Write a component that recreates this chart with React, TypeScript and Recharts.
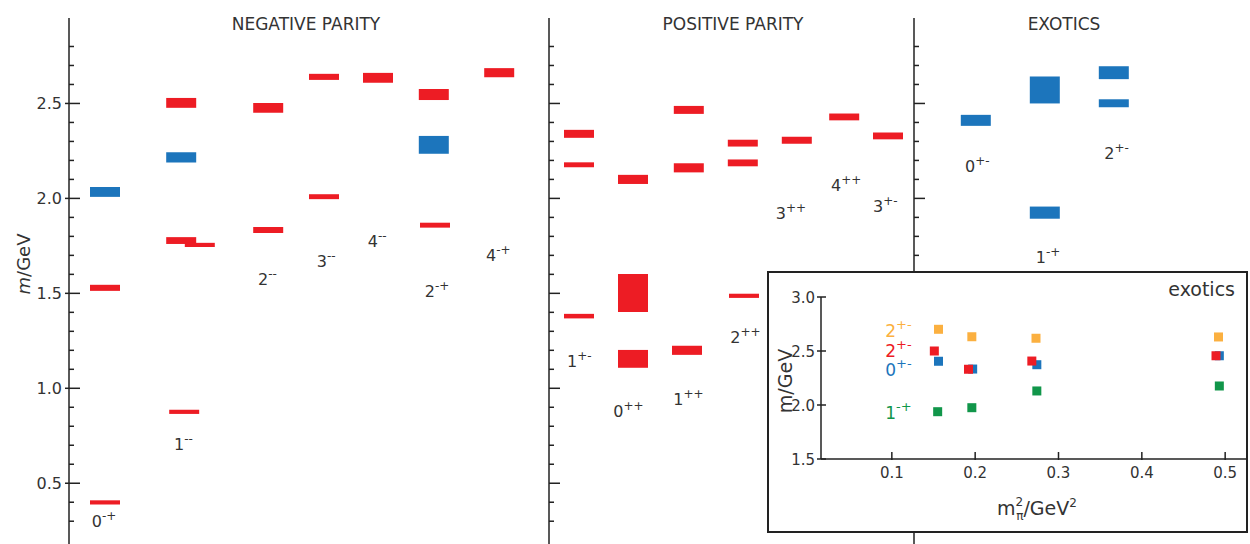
import { ComposedChart, ScatterChart, Scatter, XAxis, YAxis, ReferenceArea } from "recharts";

const RED = "#ed1c24";
const BLUE = "#1c75bc";
const ORANGE = "#fbb040";
const GREEN = "#11964a";
const INK = "#222";
const TEXT = "#333";
const FONT = "'DejaVu Sans', sans-serif";

// mass axis (GeV), minor ticks every 0.1, labels on the halves
const massTicks = [0.3, 0.4, 0.5, 0.6, 0.7, 0.8, 0.9, 1.0, 1.1, 1.2, 1.3, 1.4, 1.5, 1.6, 1.7, 1.8, 1.9, 2.0, 2.1, 2.2, 2.3, 2.4, 2.5, 2.6, 2.7, 2.8];

// [column slot, mass, half band, 1 = blue (hybrid-like)]
const negativeStates: [number, number, number, number][] = [
  [0.6, 2.034, 0.026, 1],
  [0.6, 1.529, 0.016, 0],
  [0.6, 0.399, 0.011, 0],
  [1.87, 2.503, 0.026, 0],
  [1.87, 2.216, 0.027, 1],
  [1.87, 1.778, 0.018, 0],
  [1.92, 0.876, 0.011, 0],
  [2.18, 1.755, 0.011, 0],
  [3.32, 2.477, 0.026, 0],
  [3.32, 1.834, 0.016, 0],
  [4.25, 2.64, 0.016, 0],
  [4.25, 2.009, 0.013, 0],
  [5.15, 2.635, 0.026, 0],
  [6.08, 2.547, 0.029, 0],
  [6.08, 2.282, 0.047, 1],
  [6.1, 1.859, 0.013, 0],
  [7.17, 2.662, 0.024, 0],
];

const positiveStates: [number, number, number, number][] = [
  [0.5, 2.34, 0.021, 0],
  [0.5, 2.177, 0.013, 0],
  [0.5, 1.38, 0.012, 0],
  [1.4, 2.1, 0.024, 0],
  [1.4, 1.502, 0.1, 0],
  [1.4, 1.155, 0.047, 0],
  [2.33, 2.466, 0.021, 0],
  [2.33, 2.161, 0.024, 0],
  [2.3, 1.2, 0.024, 0],
  [3.23, 2.291, 0.018, 0],
  [3.23, 2.187, 0.018, 0],
  [3.25, 1.487, 0.011, 0],
  [4.13, 2.306, 0.018, 0],
  [4.92, 2.429, 0.018, 0],
  [5.65, 2.329, 0.018, 0],
];

const exoticStates: [number, number, number, number][] = [
  [1.03, 2.411, 0.029, 1],
  [2.18, 2.571, 0.071, 1],
  [2.18, 1.925, 0.032, 1],
  [3.33, 2.662, 0.034, 1],
  [3.33, 2.501, 0.021, 1],
];

// [J, PC, slot, mass at baseline]
const negativeLabels: [string, string, number, number][] = [
  ["0", "-+", 0.38, 0.27],
  ["1", "--", 1.75, 0.676],
  ["2", "--", 3.15, 1.545],
  ["3", "--", 4.13, 1.639],
  ["4", "--", 4.98, 1.745],
  ["2", "-+", 5.93, 1.481],
  ["4", "-+", 6.95, 1.671],
];

const positiveLabels: [string, string, number, number][] = [
  ["1", "+-", 0.3, 1.113],
  ["0", "++", 1.07, 0.85],
  ["1", "++", 2.07, 0.913],
  ["2", "++", 3.02, 1.239],
  ["3", "++", 3.78, 1.892],
  ["4", "++", 4.7, 2.04],
  ["3", "+-", 5.4, 1.929],
];

const exoticLabels: [string, string, number, number][] = [
  ["0", "+-", 0.85, 2.14],
  ["1", "-+", 2.03, 1.66],
  ["2", "+-", 3.17, 2.208],
];

// inset: exotic masses vs pion mass squared
const pionTicks = [0.1, 0.2, 0.3, 0.4, 0.5];
const insetMassTicks = [1.5, 2.0, 2.5, 3.0];
const orange2X = [0.156, 0.196, 0.273, 0.492];
const orange2M = [2.701, 2.632, 2.618, 2.63];
const red2X = [0.151, 0.192, 0.268, 0.489];
const red2M = [2.5, 2.331, 2.407, 2.456];
const blue0X = [0.156, 0.197, 0.274, 0.493];
const blue0M = [2.405, 2.333, 2.373, 2.456];
const green1X = [0.155, 0.196, 0.274, 0.493];
const green1M = [1.938, 1.975, 2.13, 2.176];
const insetJ = ["2", "2", "0", "1"];
const insetPC = ["+-", "+-", "+-", "-+"];
const insetLabelX = 0.092;
const insetLabelM = [2.63, 2.444, 2.269, 1.87];
const insetColors = [ORANGE, RED, BLUE, GREEN];

function MassTick({ x, y, payload, withText }: any) {
  const v = payload.value;
  const major = Math.abs(v * 2 - Math.round(v * 2)) < 1e-6;
  return (
    <g>
      <line x1={major && withText ? x - 4 : x} x2={x + (major ? 11 : 5)} y1={y} y2={y} stroke={INK} strokeWidth={1.5} />
      {withText && major && (
        <text x={x - 7} y={y + 6} textAnchor="end" fontSize={16} fill={TEXT} fontFamily={FONT}>
          {v.toFixed(1)}
        </text>
      )}
    </g>
  );
}

function JpcText({ cx, cy, payload }: any) {
  return (
    <text x={cx} y={cy} fontSize={16} fill={TEXT} fontFamily={FONT}>
      {payload.j}
      <tspan fontSize={12} dy={-7}>{payload.pc}</tspan>
    </text>
  );
}

function Panel({ left, width, slots, yw, withText, states, labels }: any) {
  const labelData = labels.map(([j, pc, x, m]: any) => ({ j, pc, x, m }));
  return (
    <div style={{ position: "absolute", left, top: 0 }}>
      <ComposedChart width={width} height={544} margin={{ top: 18, right: 0, bottom: 0, left: 0 }}>
        <XAxis type="number" dataKey="x" domain={[0, slots]} allowDataOverflow hide />
        <YAxis
          type="number"
          dataKey="m"
          domain={[0.18, 2.95]}
          allowDataOverflow
          ticks={massTicks}
          interval={0}
          width={yw}
          tickSize={0}
          tickMargin={0}
          tickLine={false}
          axisLine={{ stroke: INK, strokeWidth: 1.5 }}
          tick={(p: any) => <MassTick {...p} withText={withText} />}
        />
        {states.map(([x, m, dm, blue]: any, i: number) => (
          <ReferenceArea
            key={i}
            x1={x - 0.25}
            x2={x + 0.25}
            y1={m - dm}
            y2={m + dm}
            fill={blue ? BLUE : RED}
            fillOpacity={1}
            stroke="none"
          />
        ))}
        <Scatter data={labelData} shape={(p: any) => <JpcText {...p} />} isAnimationActive={false} />
      </ComposedChart>
    </div>
  );
}

function InsetMassTick({ x, y, payload }: any) {
  return (
    <g>
      <line x1={x - 4} x2={x + 5} y1={y} y2={y} stroke={INK} strokeWidth={1.5} />
      <text x={x - 6} y={y + 5.5} textAnchor="end" fontSize={15} fill={TEXT} fontFamily={FONT}>
        {payload.value.toFixed(1)}
      </text>
    </g>
  );
}

function PionTick({ x, y, payload }: any) {
  return (
    <g>
      <line x1={x} x2={x} y1={y + 1} y2={y - 7} stroke={INK} strokeWidth={1.5} />
      <text x={x} y={y + 19} textAnchor="middle" fontSize={15} fill={TEXT} fontFamily={FONT}>
        {payload.value.toFixed(1)}
      </text>
    </g>
  );
}

const square = (color: string) => (p: any) => (
  <rect x={p.cx - 4.5} y={p.cy - 4.5} width={9} height={9} fill={color} />
);

function InsetLabel({ cx, cy, payload }: any) {
  return (
    <text x={cx} y={cy} fontSize={17} fill={insetColors[payload.k]} fontFamily={FONT}>
      {payload.j}
      <tspan fontSize={13} dy={-8}>{payload.pc}</tspan>
    </text>
  );
}

function Inset() {
  const pts = (xs: number[], ms: number[]) => xs.map((x, i) => ({ x, m: ms[i] }));
  const labelData = insetJ.map((j, k) => ({ j, pc: insetPC[k], k, x: insetLabelX, m: insetLabelM[k] }));
  return (
    <div
      style={{
        position: "absolute",
        left: 767,
        top: 271,
        width: 481,
        height: 262,
        border: "2px solid #222",
        boxSizing: "border-box",
        background: "#fff",
      }}
    >
      <ScatterChart width={477} height={258} margin={{ top: 24, right: 0, bottom: 0, left: 0 }}>
        <XAxis
          type="number"
          dataKey="x"
          domain={[0.015, 0.525]}
          allowDataOverflow
          ticks={pionTicks}
          interval={0}
          height={72}
          tickSize={0}
          tickMargin={0}
          tickLine={false}
          axisLine={{ stroke: INK, strokeWidth: 1.5 }}
          tick={(p: any) => <PionTick {...p} />}
        />
        <YAxis
          type="number"
          dataKey="m"
          domain={[1.5, 3.0]}
          allowDataOverflow
          ticks={insetMassTicks}
          interval={0}
          width={52}
          tickSize={0}
          tickMargin={0}
          tickLine={false}
          axisLine={{ stroke: INK, strokeWidth: 1.5 }}
          tick={(p: any) => <InsetMassTick {...p} />}
        />
        <Scatter data={pts(orange2X, orange2M)} shape={square(ORANGE)} isAnimationActive={false} />
        <Scatter data={pts(blue0X, blue0M)} shape={square(BLUE)} isAnimationActive={false} />
        <Scatter data={pts(red2X, red2M)} shape={square(RED)} isAnimationActive={false} />
        <Scatter data={pts(green1X, green1M)} shape={square(GREEN)} isAnimationActive={false} />
        <Scatter data={labelData} shape={(p: any) => <InsetLabel {...p} />} isAnimationActive={false} />
      </ScatterChart>
      <svg width={477} height={258} style={{ position: "absolute", left: 0, top: 0, pointerEvents: "none" }} fontFamily={FONT}>
        <text x={466} y={23} textAnchor="end" fontSize={19} fill={TEXT}>
          exotics
        </text>
        <text transform="translate(23,108) rotate(-90)" textAnchor="middle" fontSize={19} fill={TEXT}>
          m/GeV
        </text>
        <text x={228} y={242} fontSize={19} fill={TEXT}>
          m
          <tspan fontSize={12} dy={-9}>2</tspan>
          <tspan fontSize={12} dx={-7} dy={14}>π</tspan>
          <tspan dy={-5}>/GeV</tspan>
          <tspan fontSize={12} dy={-8}>2</tspan>
        </text>
      </svg>
    </div>
  );
}

export default function App() {
  return (
    <div
      style={{
        position: "absolute",
        left: 0,
        top: 0,
        width: 1250,
        height: 544,
        overflow: "hidden",
        background: "#fff",
        fontFamily: FONT,
      }}
    >
      <Panel left={0} width={549} slots={8} yw={69} withText states={negativeStates} labels={negativeLabels} />
      <Panel left={539} width={375} slots={6.0833} yw={10} withText={false} states={positiveStates} labels={positiveLabels} />
      <Panel left={904} width={346} slots={5.6} yw={10} withText={false} states={exoticStates} labels={exoticLabels} />
      <svg width={1250} height={544} style={{ position: "absolute", left: 0, top: 0, pointerEvents: "none" }} fontFamily={FONT}>
        <text x={306} y={30} textAnchor="middle" fontSize={17} fill={TEXT}>
          NEGATIVE PARITY
        </text>
        <text x={733} y={30} textAnchor="middle" fontSize={17} fill={TEXT}>
          POSITIVE PARITY
        </text>
        <text x={1064} y={30} textAnchor="middle" fontSize={17} fill={TEXT}>
          EXOTICS
        </text>
        <text transform="translate(30,264) rotate(-90)" textAnchor="middle" fontSize={18} fill={TEXT}>
          <tspan fontStyle="italic">m</tspan>/GeV
        </text>
      </svg>
      <Inset />
    </div>
  );
}
